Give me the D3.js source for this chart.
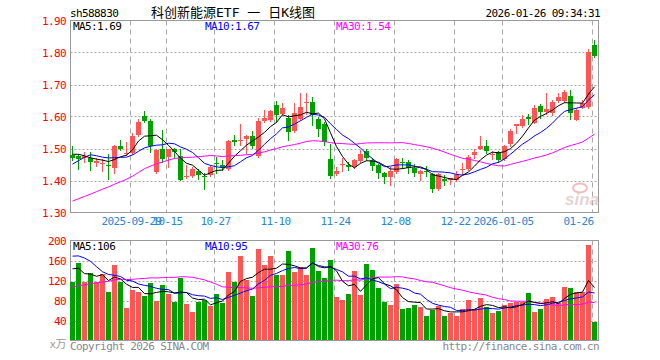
<!DOCTYPE html>
<html><head><meta charset="utf-8">
<script src="https://cdn.jsdelivr.net/npm/d3@7"></script>
<style>
body{margin:0;background:#fff}
svg{display:block}
text{font-family:"DejaVu Sans Mono",monospace;font-size:11px;letter-spacing:-0.6px}
</style></head><body>
<svg id="c" width="660" height="360"></svg>
<script>
const symbol = "sh588830";
const title = "科创新能源ETF 一 日K线图";
const stamp = "2026-01-26 09:34:31";
const tickIdx = [10, 16, 24, 34, 44, 54, 64, 72, 87];
const tickLabels = ["2025-09-29","10-15","10-27","11-10","11-24","12-08","12-22","2026-01-05","01-26"];
const priceTicks = [1.3, 1.4, 1.5, 1.6, 1.7, 1.8, 1.9];
const volTicks = [40, 80, 120, 160, 200];

// 29 sessions before the first visible candle (needed for the moving averages)
const priorClose = [1.25,1.26,1.24,1.23,1.22,1.24,1.25,1.27,1.26,1.24,
  1.23,1.24,1.26,1.28,1.30,1.32,1.33,1.35,1.38,1.41,
  1.36,1.37,1.38,1.49,1.50,1.47,1.50,1.49,1.48];
const priorVol = [60,72,65,80,70,58,66,75,90,85,62,70,78,88,95,72,80,85,78,85,
  150,160,200,225,235,150,170,140,140];

const open = [1.479,1.476,1.469,1.470,1.454,1.451,1.448,1.440,1.507,1.482,
  1.485,1.542,1.601,1.585,1.427,1.498,1.474,1.497,1.476,1.410,
  1.413,1.431,1.415,1.417,1.454,1.448,1.436,1.526,1.523,1.531,
  1.538,1.476,1.586,1.588,1.635,1.607,1.596,1.554,1.591,1.641,
  1.646,1.591,1.576,1.466,1.420,1.448,1.448,1.441,1.461,1.491,
  1.463,1.448,1.424,1.410,1.427,1.458,1.458,1.440,1.420,1.429,
  1.420,1.372,1.404,1.401,1.401,1.434,1.435,1.479,1.500,1.507,
  1.479,1.490,1.466,1.513,1.571,1.570,1.598,1.581,1.632,1.613,
  1.610,1.648,1.649,1.663,1.590,1.626,1.629,1.824];
const high = [1.507,1.484,1.488,1.490,1.469,1.468,1.484,1.510,1.526,1.520,
  1.547,1.591,1.617,1.591,1.500,1.559,1.500,1.503,1.497,1.448,
  1.442,1.435,1.423,1.448,1.473,1.463,1.528,1.543,1.576,1.542,
  1.555,1.594,1.620,1.620,1.649,1.642,1.604,1.641,1.674,1.674,
  1.661,1.599,1.583,1.513,1.441,1.469,1.458,1.466,1.495,1.500,
  1.469,1.453,1.427,1.443,1.471,1.469,1.463,1.451,1.434,1.445,
  1.422,1.422,1.417,1.409,1.430,1.455,1.479,1.497,1.538,1.526,
  1.491,1.493,1.510,1.562,1.578,1.604,1.609,1.635,1.638,1.673,
  1.653,1.674,1.682,1.682,1.627,1.651,1.810,1.840];
const low = [1.463,1.436,1.459,1.432,1.445,1.431,1.406,1.422,1.495,1.480,
  1.484,1.540,1.583,1.489,1.422,1.458,1.442,1.470,1.401,1.407,
  1.411,1.404,1.374,1.414,1.424,1.434,1.434,1.512,1.510,1.486,
  1.503,1.474,1.582,1.586,1.582,1.604,1.526,1.552,1.588,1.609,
  1.573,1.538,1.510,1.409,1.417,1.430,1.434,1.438,1.458,1.463,
  1.432,1.409,1.392,1.385,1.424,1.440,1.422,1.413,1.401,1.413,
  1.363,1.370,1.385,1.388,1.399,1.420,1.432,1.470,1.497,1.485,
  1.466,1.459,1.463,1.509,1.548,1.567,1.576,1.579,1.595,1.609,
  1.604,1.646,1.646,1.591,1.588,1.625,1.627,1.787];
const close = [1.471,1.468,1.477,1.458,1.460,1.455,1.446,1.509,1.500,1.486,
  1.538,1.583,1.585,1.507,1.495,1.466,1.497,1.489,1.403,1.414,
  1.437,1.417,1.411,1.442,1.451,1.442,1.524,1.521,1.527,1.538,
  1.507,1.586,1.594,1.617,1.604,1.627,1.552,1.611,1.630,1.646,
  1.604,1.562,1.521,1.413,1.429,1.451,1.442,1.463,1.482,1.471,
  1.445,1.424,1.412,1.429,1.466,1.455,1.440,1.422,1.430,1.426,
  1.372,1.420,1.399,1.408,1.417,1.436,1.474,1.489,1.507,1.491,
  1.482,1.463,1.507,1.555,1.576,1.592,1.592,1.628,1.613,1.623,
  1.644,1.661,1.675,1.610,1.621,1.642,1.802,1.790];
const volume = [117,155,117,135,118,133,97,151,117,65,
  101,97,89,115,79,111,93,77,125,73,
  57,77,81,69,93,75,137,117,169,121,
  89,183,151,169,131,131,179,137,147,131,
  185,139,125,161,87,81,93,139,91,153,
  141,105,77,71,113,63,65,71,67,49,
  62,70,49,56,49,63,81,63,85,67,
  55,59,71,75,77,77,95,57,64,84,
  88,76,108,106,97,97,192,38];

const RED = "#ff5555", GREEN = "#00a000", GRID = "#a8a8a8", BORDER = "#999";
const n = close.length;

function movingAvg(prior, vals, p) {
  const all = prior.concat(vals), off = prior.length;
  return vals.map((_, i) => d3.mean(all.slice(off + i - p + 1, off + i + 1)));
}
const maP = {5: movingAvg(priorClose, close, 5), 10: movingAvg(priorClose, close, 10), 30: movingAvg(priorClose, close, 30)};
const maV = {5: movingAvg(priorVol, volume, 5), 10: movingAvg(priorVol, volume, 10), 30: movingAvg(priorVol, volume, 30)};
const maColors = {5: "#000000", 10: "#0000ff", 30: "#ff00ff"};

const svg = d3.select("#c");
const L = 70.5, R = 598.5;
const x = d3.scaleLinear().domain([0, n - 1]).range([72, 594]);
const yP = d3.scaleLinear().domain([1.3, 1.9]).range([212.5, 20.5]);
const yV = d3.scaleLinear().domain([0, 200]).range([340.5, 240.5]);
const cx = i => Math.round(x(i));

// header
svg.append("text").attr("x", 70).attr("y", 17).text(symbol);
svg.append("text").attr("x", 151).attr("y", 17)
  .style("font-family", "'DejaVu Sans Mono','Noto Sans CJK SC'").style("font-size", "13px").style("letter-spacing", "0px")
  .text(title);
svg.append("text").attr("x", 600).attr("y", 17).attr("text-anchor", "end").text(stamp);

function panelGrid(y, ticks, top, bottom) {
  const g = svg.append("g");
  g.selectAll("line.h").data(ticks.slice(1, -1)).join("line")
    .attr("x1", L).attr("x2", R).attr("y1", d => Math.round(y(d)) + 0.5).attr("y2", d => Math.round(y(d)) + 0.5)
    .attr("stroke", GRID).attr("stroke-dasharray", "2,2");
  g.selectAll("line.v").data(tickIdx).join("line")
    .attr("x1", d => cx(d) - 1.5).attr("x2", d => cx(d) - 1.5).attr("y1", top).attr("y2", bottom)
    .attr("stroke", GRID).attr("stroke-dasharray", "5,4");
  g.append("rect").attr("x", L).attr("y", top).attr("width", R - L).attr("height", bottom - top)
    .attr("fill", "none").attr("stroke", BORDER);
}
panelGrid(d => yP(d), priceTicks, 20.5, 212.5);
panelGrid(d => yV(d), [0].concat(volTicks), 240.5, 340.5);

// y axes
const ax1 = svg.append("g").attr("transform", "translate(70,0)")
  .call(d3.axisLeft(yP).tickValues(priceTicks).tickFormat(d3.format(".2f")).tickSize(0).tickPadding(4));
const ax2 = svg.append("g").attr("transform", "translate(70,0)")
  .call(d3.axisLeft(yV).tickValues(volTicks).tickFormat(d3.format("d")).tickSize(0).tickPadding(4));
[ax1, ax2].forEach(a => {
  a.select(".domain").remove();
  a.selectAll("text").attr("fill", "#ff0000").style("font-family", "'DejaVu Sans Mono'").style("font-size", "11px");
});
svg.append("text").attr("x", 66).attr("y", 348).attr("text-anchor", "end").attr("fill", "#999")
  .style("font-family", "'DejaVu Sans Mono','Noto Sans CJK SC'").text("x万");

// x axis
const axX = svg.append("g").attr("transform", "translate(0,212.5)")
  .call(d3.axisBottom(x).tickValues(tickIdx).tickFormat((d, i) => tickLabels[i]).tickSize(0).tickPadding(5));
axX.select(".domain").remove();
axX.selectAll("text").attr("fill", "#2a86d4").style("font-family", "'DejaVu Sans Mono'").style("font-size", "11px")
  .each(function (d, i) { if (i === tickIdx.length - 1) d3.select(this).attr("text-anchor", "end").attr("x", -1); else d3.select(this).attr("x", -1); });

// watermark
const wm = svg.append("g").attr("opacity", 0.45);
wm.append("ellipse").attr("cx", 580).attr("cy", 188).attr("rx", 7).attr("ry", 4.5).attr("fill", "none").attr("stroke", "#e07070").attr("stroke-width", 2);
wm.append("text").attr("x", 565).attr("y", 205).style("font-family", "'Liberation Sans'").style("font-size", "17px")
  .style("font-weight", "bold").style("font-style", "italic").style("letter-spacing", "0px").attr("fill", "#c8a0a0").text("sina");

// candles
const idx = d3.range(n);
const cg = svg.append("g").attr("shape-rendering", "crispEdges");
const col = i => close[i] >= open[i] ? RED : GREEN;
cg.selectAll("line").data(idx).join("line")
  .attr("x1", i => cx(i) + 0.5).attr("x2", i => cx(i) + 0.5)
  .attr("y1", i => Math.round(yP(high[i]))).attr("y2", i => Math.round(yP(low[i])) + 1)
  .attr("stroke", col);
cg.selectAll("rect").data(idx).join("rect")
  .attr("x", i => cx(i) - 2).attr("width", 5)
  .attr("y", i => Math.round(yP(Math.max(open[i], close[i]))))
  .attr("height", i => Math.max(1, Math.round(yP(Math.min(open[i], close[i]))) - Math.round(yP(Math.max(open[i], close[i])))))
  .attr("fill", col);

// volume bars
const vg = svg.append("g").attr("shape-rendering", "crispEdges");
vg.selectAll("rect").data(idx).join("rect")
  .attr("x", i => cx(i) - 2).attr("width", 5)
  .attr("y", i => Math.round(yV(volume[i])))
  .attr("height", i => 340 - Math.round(yV(volume[i])))
  .attr("fill", col);

// moving average lines
[30, 10, 5].forEach(p => {
  svg.append("path").datum(maP[p]).attr("fill", "none").attr("stroke", maColors[p]).attr("stroke-width", 1)
    .attr("d", d3.line().x((d, i) => x(i) + 0.5).y(d => yP(d)));
  svg.append("path").datum(maV[p]).attr("fill", "none").attr("stroke", maColors[p]).attr("stroke-width", 1)
    .attr("d", d3.line().x((d, i) => x(i) + 0.5).y(d => yV(d)));
});

// legends
const legX = {5: 73, 10: 205, 30: 336};
[5, 10, 30].forEach(p => {
  svg.append("text").attr("x", legX[p]).attr("y", 30).attr("fill", maColors[p])
    .text("MA" + p + ":" + maP[p][n - 1].toFixed(2));
  svg.append("text").attr("x", legX[p]).attr("y", 250).attr("fill", maColors[p])
    .text("MA" + p + ":" + Math.round(maV[p][n - 1]));
});

// footer
svg.append("text").attr("x", 70).attr("y", 350).attr("fill", "#888").text("Copyright 2026 SINA.COM");
svg.append("text").attr("x", 599).attr("y", 350).attr("text-anchor", "end").attr("fill", "#888").text("http://finance.sina.com.cn");
</script>
</body></html>
